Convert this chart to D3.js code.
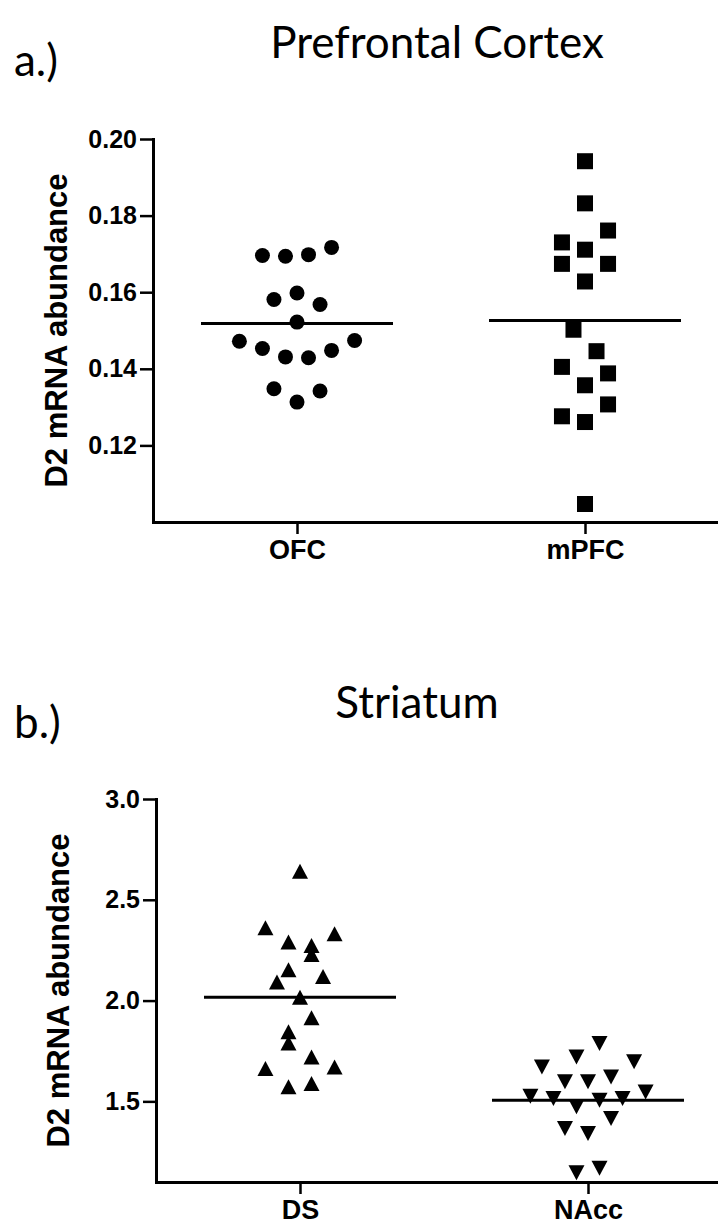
<!DOCTYPE html>
<html lang="en">
<head>
<meta charset="UTF-8">
<title>D2 mRNA abundance</title>
<script src="https://d3js.org/d3.v7.min.js"></script>
<style>
    body { margin: 0; background: #fff; }
    .axis path, .axis line { stroke: #000; }
    .axis path { stroke-width: 3px; stroke-linecap: square; }
    .axis line { stroke-width: 2.5px; }
    .axis text { fill: #000; font-family: "Liberation Sans", Arial, sans-serif; font-weight: bold; }
    .ylab { font-family: "Liberation Sans", Arial, sans-serif; font-weight: bold; font-size: 31px; }
    .title, .panel-tag { font-family: Lato, "Open Sans", sans-serif; font-size: 44px; }
</style>
</head>
<body>
<script>
// ---- data ----
const prefrontalGroups = ["OFC", "mPFC"]
const prefrontalTicks = [0.12, 0.14, 0.16, 0.18, 0.20]
const ofcValues = [0.1696, 0.1694, 0.1698, 0.1717, 0.1581, 0.1598, 0.1568, 0.1522, 0.1472,
                   0.1453, 0.1431, 0.1429, 0.1448, 0.1474, 0.1348, 0.1342, 0.1313]
const ofcSlots  = [-3, -1, 1, 3, -2, 0, 2, 0, -5, -3, -1, 1, 3, 5, -2, 2, 0]
const mpfcValues = [0.1942, 0.1832, 0.1761, 0.1730, 0.1711, 0.1674, 0.1674, 0.1628, 0.1502,
                    0.1446, 0.1405, 0.1388, 0.1357, 0.1307, 0.1276, 0.1261, 0.1047]
const mpfcSlots  = [0, 0, 2, -2, 0, -2, 2, 0, -1, 1, -2, 2, 0, 2, -2, 0, 0]
const prefrontalMeans = [0.1518, 0.1526]

const striatumGroups = ["DS", "NAcc"]
const striatumTicks = [1.5, 2.0, 2.5, 3.0]
const dsValues = [2.641, 2.361, 2.331, 2.290, 2.273, 2.229, 2.153, 2.120, 2.092,
                  2.017, 1.915, 1.845, 1.790, 1.720, 1.663, 1.671, 1.572, 1.589]
const dsSlots  = [0, -3, 3, -1, 1, 1, -1, 2, -2, 0, 1, -1, -1, 1, -3, 3, -1, 1]
const naccValues = [1.787, 1.720, 1.696, 1.671, 1.597, 1.597, 1.621, 1.526, 1.514,
                    1.473, 1.506, 1.514, 1.547, 1.415, 1.366, 1.341, 1.146, 1.168]
const naccSlots  = [1, -1, 4, -4, -2, 0, 2, -5, -3, -1, 1, 3, 5, 2, -2, 0, -1, 1]
const striatumMeans = [2.017, 1.506]

const svg = d3.select("body").append("svg")
    .attr("width", 718)
    .attr("height", 1226)

svg.append("rect").attr("width", 718).attr("height", 1226).attr("fill", "#fff")

// marker shapes
function circleShape(g) {
    g.append("circle").attr("r", 7.5)
}
function squareShape(g) {
    g.append("rect").attr("x", -8).attr("y", -8).attr("width", 16).attr("height", 16)
}
function triUp(g) {
    g.append("path").attr("d", "M0,-7.5L8,7.5L-8,7.5Z")
}
function triDown(g) {
    g.append("path").attr("d", "M0,7.5L8,-7.5L-8,-7.5Z")
}

function drawPanel(p) {
    const x = d3.scalePoint()
        .domain(p.groups)
        .range([p.left, p.left + 576])
        .padding(0.5)
    const y = d3.scaleLinear()
        .domain(p.yDomain)
        .range([p.bottom, p.top])
    const slotW = x.step() / 25

    // titles
    svg.append("text").attr("class", "panel-tag")
        .attr("x", 14).attr("y", p.tagY)
        .text(p.tag)
    svg.append("text").attr("class", "title")
        .attr("x", p.titleX).attr("y", p.titleY)
        .attr("text-anchor", "middle")
        .text(p.title)

    // y axis
    const yAxis = svg.append("g")
        .attr("class", "axis")
        .attr("transform", `translate(${p.left},0)`)
        .call(d3.axisLeft(y).tickValues(p.ticks).tickFormat(d3.format(p.fmt))
            .tickSize(13).tickPadding(3).tickSizeOuter(0))
    yAxis.selectAll("text").style("font-size", "25px")

    // x axis
    const xAxis = svg.append("g")
        .attr("class", "axis")
        .attr("transform", `translate(0,${p.bottom})`)
        .call(d3.axisBottom(x).tickSize(12).tickSizeOuter(0))
    xAxis.selectAll("text")
        .style("font-size", "27px")
        .attr("y", 37).attr("dy", 0)

    // y label
    svg.append("text").attr("class", "ylab")
        .attr("transform", `translate(${p.labelX},${(p.top + p.bottom) / 2}) rotate(-90)`)
        .attr("text-anchor", "middle")
        .text("D2 mRNA abundance")

    // points
    p.series.forEach((s, i) => {
        const cx = x(p.groups[i])
        s.values.forEach((v, j) => {
            const m = svg.append("g")
                .attr("transform", `translate(${cx + s.slots[j] * slotW},${y(v)})`)
                .attr("fill", "#000")
            s.shape(m)
        })
        // mean line
        svg.append("line")
            .attr("x1", cx - x.step() / 3).attr("x2", cx + x.step() / 3)
            .attr("y1", y(p.means[i])).attr("y2", y(p.means[i]))
            .attr("stroke", "#000").attr("stroke-width", 3)
    })
}

drawPanel({
    tag: "a.)", tagY: 76, title: "Prefrontal Cortex", titleX: 437, titleY: 58,
    groups: prefrontalGroups, ticks: prefrontalTicks, fmt: ".2f",
    yDomain: [0.10, 0.20], left: 153, top: 139, bottom: 522, labelX: 67,
    means: prefrontalMeans,
    series: [
        {values: ofcValues, slots: ofcSlots, shape: circleShape},
        {values: mpfcValues, slots: mpfcSlots, shape: squareShape}
    ]
})

drawPanel({
    tag: "b.)", tagY: 738, title: "Striatum", titleX: 417, titleY: 718,
    groups: striatumGroups, ticks: striatumTicks, fmt: ".1f",
    yDomain: [1.10, 3.0], left: 156, top: 799, bottom: 1182, labelX: 69,
    means: striatumMeans,
    series: [
        {values: dsValues, slots: dsSlots, shape: triUp},
        {values: naccValues, slots: naccSlots, shape: triDown}
    ]
})
</script>
</body>
</html>
